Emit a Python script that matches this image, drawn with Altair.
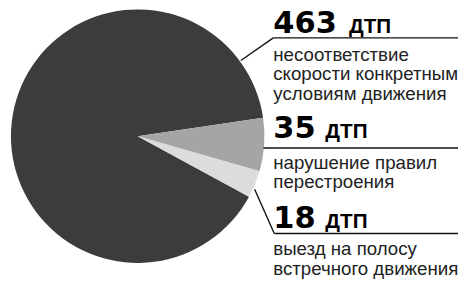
import math
import altair as alt
import pandas as pd

# ---- data ----
counts = [463, 35, 18]
unit = "ДТП"
descriptions = [
    ["несоответствие", "скорости конкретным", "условиям движения"],
    ["нарушение правил", "перестроения"],
    ["выезд на полосу", "встречного движения"],
]
colors = ["#3c3c3c", "#a6a4a7", "#dcdcdc"]

# ---- layout (page coords minus 8px margin) ----
M = 8
cx, cy, R = 140 - M, 136 - M, 129
start = math.radians(81.6)
# slice drawing order: medium, light, dark (clockwise from start angle)
order = [2, 0, 1]  # rank for dark, medium, light

num_x = 278 - M
num_baselines = [31, 138, 229]
unit_x = [355, 331, 331]
desc_baselines = [59, 169, 257]
line_h = 20

pie_df = pd.DataFrame({
    "cat": ["a", "b", "c"],
    "value": counts,
    "rank": order,
    "color": colors,
})

pie = alt.Chart(pie_df).mark_arc(outerRadius=R).encode(
    theta=alt.Theta("value:Q", stack=True,
                    scale=alt.Scale(range=[start, start + 2 * math.pi])),
    order=alt.Order("rank:Q"),
    color=alt.Color("color:N", scale=None),
    x=alt.value(cx),
    y=alt.value(cy),
)

num_df = pd.DataFrame({
    "t": [str(c) for c in counts],
    "x": [num_x] * 3,
    "y": [b - M for b in num_baselines],
})
nums = alt.Chart(num_df).mark_text(
    font="DejaVu Sans", fontWeight="bold", fontSize=31, align="left",
    baseline="alphabetic", color="#000000"
).encode(x=alt.X("x:Q", scale=None), y=alt.Y("y:Q", scale=None), text="t:N")

unit_df = pd.DataFrame({
    "t": [unit] * 3,
    "x": [u - M for u in unit_x],
    "y": [b - M for b in num_baselines],
})
units = alt.Chart(unit_df).mark_text(
    font="Liberation Sans", fontWeight="bold", fontSize=21, align="left",
    baseline="alphabetic", color="#000000"
).encode(x=alt.X("x:Q", scale=None), y=alt.Y("y:Q", scale=None), text="t:N")

rows = []
for lines, b in zip(descriptions, desc_baselines):
    for i, s in enumerate(lines):
        rows.append({"t": s, "x": num_x, "y": b - M + i * line_h})
desc_df = pd.DataFrame(rows)
desc = alt.Chart(desc_df).mark_text(
    font="Liberation Sans", fontSize=19, align="left", baseline="alphabetic",
    color="#222222"
).encode(x=alt.X("x:Q", scale=None), y=alt.Y("y:Q", scale=None), text="t:N")

seg = pd.DataFrame({
    "x": [245, 278, 268, 259, 279],
    "y": [59, 36, 148, 190, 235],
    "x2": [278, 466, 466, 279, 466],
    "y2": [36, 36, 148, 235, 235],
})
seg = seg - M
rules = alt.Chart(seg).mark_rule(color="#111111", strokeWidth=1.4).encode(
    x=alt.X("x:Q", scale=None), y=alt.Y("y:Q", scale=None),
    x2="x2:Q", y2="y2:Q",
)

chart = alt.layer(pie, rules, nums, units, desc).properties(
    width=458, height=276, padding=0,
    autosize=alt.AutoSizeParams(type="none"),
).configure_view(stroke=None)

chart.save("out.html", embed_options={"renderer": "svg", "actions": False})
